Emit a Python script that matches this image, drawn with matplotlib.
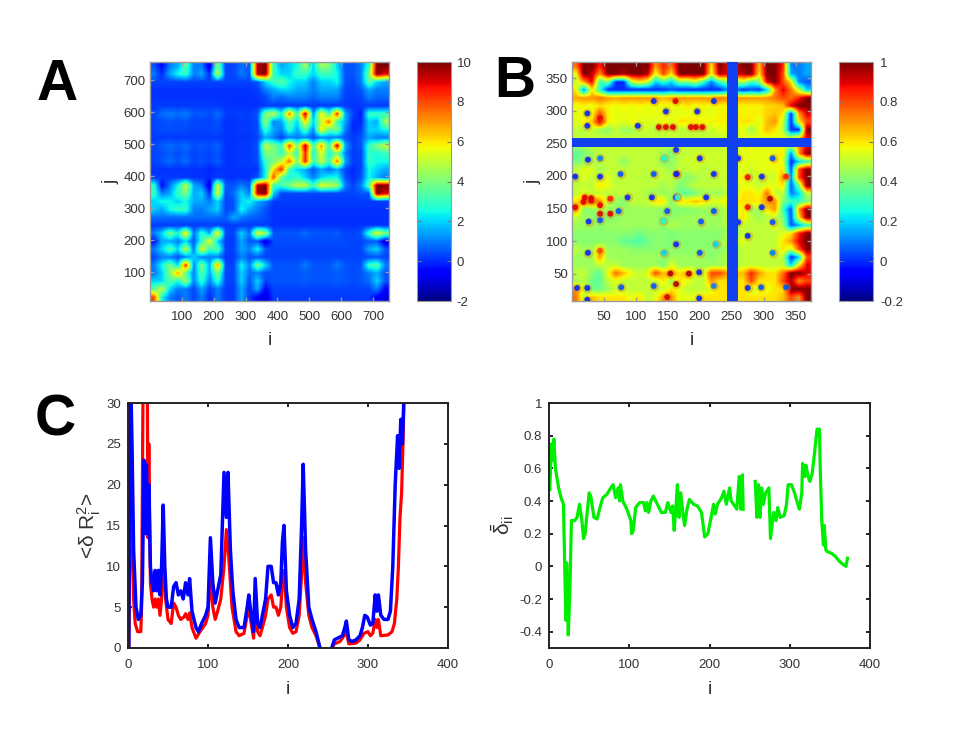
import numpy as np
import matplotlib
matplotlib.use("Agg")
import matplotlib.pyplot as plt
from matplotlib.colors import Normalize

plt.rcParams['font.family'] = ['Liberation Sans', 'DejaVu Sans']
plt.rcParams['mathtext.fontset'] = 'custom'
plt.rcParams['mathtext.rm'] = 'Liberation Sans'
plt.rcParams['mathtext.it'] = 'Liberation Sans'

# Panel A: coarse readout, rows from top (j high) to bottom (j low)
A_rows = [
 [.5,-.5,1,1.5,3.5,1,1,-1,4,.3,.3,.8,.5,9.5,10,3,1.5,2,2.5,4.5,2,4.5,4,2,.5,.5,1,3,10,10],
 [1,0,1.5,2.5,3,1,1.5,0,5,.3,.3,1,.5,9.5,10,3,2,2,3,3,2,3,3,2.5,.5,.5,1,4,10,9],
 [.3,.3,.3,.3,.3,.3,.3,.3,.3,.3,.3,.3,.3,.5,2,3,3.5,2.5,2,2,1,2,2,2.5,.5,.3,1,3.5,2,1.5],
 [.1,.1,.1,.1,.1,.1,.1,.1,.1,.1,.1,.1,.1,.2,1,1.5,2,2,1.5,1.5,1,1.5,1.5,1.5,.3,.3,.5,1.5,1,1],
 [.1,.1,.1,.1,.1,.1,.1,.1,.1,.1,.1,.1,.1,.1,.3,1,.7,1,1,1,.7,1,1,1,.3,.2,.3,1,.7,.7],
 [.2,.2,.2,.2,.2,.2,.2,.2,.2,.1,.1,.1,.1,.1,.2,.2,.2,.2,.2,.2,.2,.2,.2,.2,.2,.1,.2,.2,.2,.2],
 [.3,.8,1,.8,1,.5,.6,.4,.8,.2,.2,.3,.2,.5,4,5,2.5,7.5,3,9.5,1,6,3,8.5,1.5,.3,-.2,3,3,3],
 [.3,.4,.5,.4,.5,.3,.3,.3,.5,.1,.1,.2,.2,.4,4.5,1,1.5,3.5,2,6,2,5,7.5,3,1.5,0,0,2,1.5,4.5],
 [.3,.4,.4,.4,.4,.3,.3,.3,.4,.1,.1,.2,.2,.4,3,1.5,1,3,1.5,3.5,1,6,3.5,4,1,0,.2,2,2,2.5],
 [.2,.2,.2,.2,.2,.2,.2,.2,.2,.1,.1,.1,.1,.3,1.5,1,.3,1,1,1,.5,1,1,1,.5,.2,.5,1.5,1,1],
 [.3,.6,.8,.6,.8,.4,.6,.4,.7,.1,.1,.2,.2,.5,5,4,3,8,4,9.5,3,7,3,9.5,1.5,.2,.5,3,4,5],
 [.3,.4,.6,.4,.6,.3,.4,.3,.5,.1,.1,.2,.2,.4,4,4,3,5,3,8.5,2.5,5.5,2.5,4,1,.2,.3,3,2.5,3],
 [.3,.5,.8,.5,.8,.3,.5,.3,.6,.1,.1,.2,.2,.4,3,4,5,7.5,4,8.5,3,5,3,7.5,1.5,.2,.3,3,2.5,2.5],
 [.1,.1,.1,.1,.1,.1,.1,-.1,.1,.1,.1,.1,.1,.1,2.5,6,8.5,3,2,1.5,.5,1.5,.8,1.5,.3,0,.3,2.5,2,1.5],
 [.2,.2,.2,.2,.2,.1,.1,0,.2,.1,.1,.1,.1,.5,2.5,8,3.5,2.5,3,2,1,2,2.5,2.5,.5,0,.5,2.5,1.5,1],
 [3,-.5,1,2.5,5,1.5,1,-1,5.5,.5,.5,1,.5,9.5,10,3,3,4,5,5,3,5.5,5,4.5,1,.3,1,3.5,10,10],
 [3,1,1.5,3,4,1.5,2,0,5.5,.3,.8,2,1,9.5,10,2,.3,.3,.3,.3,.3,.3,.3,.3,.3,.3,.5,.5,10,9],
 [2,2.5,2.5,2,2.5,1.5,1.5,1,2,.3,.5,2,2.5,1.5,1,.2,.2,.2,.2,.2,.2,.2,.2,.2,.2,.2,.2,.2,.2,.2],
 [2,1.5,2.5,3,3,1,1,1.5,2,.3,.5,2.5,1.5,1,.5,.1,.1,.1,.1,.1,.1,.1,.1,.1,.1,.1,.1,.1,.1,.1],
 [.8,.8,.8,.8,.8,.8,.8,.8,.8,.6,1.5,1,.7,.6,.4,.1,.1,.1,.1,.1,.1,.1,.1,.1,.1,.1,.1,.1,.1,.1],
 [.2,.2,.2,.2,.2,.2,.2,.2,.2,.2,.2,.2,.2,.2,.2,.1,.1,.1,.1,.1,.1,.1,.1,.1,.1,.1,.1,.1,.1,.1],
 [1,2,4,2.5,6,.8,3,1.5,6,.3,.3,2,.8,5.5,4.5,.5,.5,.5,.5,.8,.5,.5,.5,.6,.3,.3,.5,3,5.5,4],
 [-.3,1.5,1.5,1,2,.5,3,5.5,2,.2,.2,1.5,.5,.5,-1,.4,.4,.4,.4,.4,.4,.4,.4,.4,.4,.3,.3,.5,.5,-1],
 [1,2,3.5,2,5,.8,5.5,3,3.5,.2,.3,1.5,1,2.5,.5,.3,.3,.3,.3,.3,.3,.3,.3,.3,.3,.3,.3,1.5,2,.5],
 [.3,1,1,.5,1,2,1,1,1,.1,.2,1,.5,.5,.3,.3,.3,.3,.3,.3,.3,.3,.3,.3,.3,.3,.3,.4,.5,.3],
 [1,2.5,4,2,8.5,1,4,1.5,7,.3,.3,2.5,1,4,2,.5,.5,.5,.5,1,.5,.5,.5,1,.5,.4,.5,3,3.5,1],
 [.8,2,4,7,3.5,1,3.5,1.5,4,.3,.3,2,.8,1,.5,.5,.5,.5,.5,.6,.5,.5,.5,.6,.5,.4,.5,1,1.5,.5],
 [2,2,3.5,2.5,4.5,1,3,1,3,.3,.3,2,.5,2,.3,.5,.5,.5,.5,.6,.5,.5,.5,.6,.5,.4,.5,.8,2,.5],
 [3.5,5,2,1,1,.3,1.5,.3,1,.2,.2,1.5,.3,1.5,-.5,.3,.3,.3,.3,.3,.3,.3,.3,.3,.3,.3,.3,.3,1,-.5],
 [8,2.5,1,.5,1,.3,1,0,1,.2,.2,1.5,.2,-.5,-1,.2,.2,.2,.2,.2,.2,.2,.2,.2,.2,.2,.2,.2,-.5,-1],
]

# Panel B: smooth background readout, rows from top to bottom (blue cross is drawn on top)
B_rows = [
 [.75,1,1,.85,1,1,1,1,1,1,.7,.85,.75,1,1,1,1,.6,1,.9,.9,1,1,.65,1,1,.85,.1,.1,.15],
 [.55,1,.95,.7,1,1,.95,1,1,.95,.55,.8,.6,1,1,1,1,.55,.95,.9,.9,.95,1,.6,1,1,.8,.15,.1,.15],
 [.5,.7,.9,.3,.4,0,0,.5,.6,.5,.2,.3,.2,.4,.4,.5,.3,.1,.3,.4,.4,.5,.3,.4,.9,1,.8,.6,.1,.05],
 [.6,.1,.6,.3,0,0,0,0,0,0,0,0,.05,0,0,0,0,0,0,.1,.1,0,.05,0,.2,.7,.9,.75,.5,.2],
 [.68,.7,.7,.75,.7,.68,.7,.7,.7,.7,.7,.65,.7,.7,.7,.7,.7,.7,.75,.72,.7,.7,.7,.7,.7,.75,.8,.75,.85,1],
 [.56,.58,.56,.6,.58,.56,.58,.56,.58,.56,.56,.56,.56,.56,.6,.56,.58,.56,.58,.58,.58,.58,.58,.58,.62,.62,.65,.9,1,1],
 [.56,.56,.56,.8,.58,.56,.56,.56,.56,.56,.56,.54,.55,.55,.55,.55,.55,.55,.58,.58,.58,.58,.58,.58,.62,.65,.6,0,.7,.9],
 [.54,.58,.62,.95,.58,.56,.54,.58,.54,.54,.54,.58,.54,.6,.6,.6,.58,.58,.58,.58,.58,.6,.6,.54,.65,.7,.5,0,.6,.8],
 [.5,.48,.52,.45,.42,.5,.45,.45,.5,.52,.48,.5,.52,.5,.5,.5,.5,.52,.55,.55,.55,.56,.45,.56,.65,.6,.5,0,0,1],
 [.5,.5,.5,.5,.5,.5,.5,.5,.5,.5,.5,.5,.5,.5,.5,.5,.5,.5,.5,.52,.52,.55,.55,.55,.55,.55,.55,.5,.6,.9],
 [.45,.45,.5,.5,.5,.5,.5,.5,.5,.5,.5,.5,.5,.5,.5,.5,.5,.5,.5,.52,.52,.55,.55,.55,.55,.55,.55,.5,.7,.9],
 [.35,.4,.45,.5,.5,.5,.5,.5,.5,.5,.5,.45,.4,.5,.5,.52,.52,.52,.52,.52,.52,.55,.55,.55,.55,.55,.6,.1,.7,1],
 [.4,.42,.45,.5,.5,.5,.42,.5,.5,.5,.5,.4,.42,.5,.52,.52,.52,.52,.52,.52,.52,.55,.55,.55,.55,.6,.55,0,.2,.3],
 [.5,.55,.55,.45,.5,.5,.5,.5,.5,.5,.5,.5,.45,.5,.5,.52,.48,.5,.52,.52,.52,.55,.52,.55,.55,.55,.6,.05,.8,1],
 [.45,.55,.5,.5,.55,.48,.5,.5,.5,.48,.5,.5,.5,.45,.42,.45,.5,.48,.5,.52,.52,.6,.5,.5,.52,.52,.7,.1,.8,1],
 [.5,.5,.5,.6,.55,.5,.5,.5,.5,.5,.5,.45,.5,.4,.45,.5,.5,.5,.5,.52,.52,.55,.55,.5,.55,.55,.6,.05,.4,1],
 [.5,.55,.5,.5,.5,.5,.5,.5,.5,.45,.45,.45,.45,.38,.35,.4,.45,.45,.45,.5,.5,.6,.6,.55,.75,.5,.5,.1,.2,.5],
 [.6,.72,.78,.72,.5,.45,.4,.5,.5,.5,.6,.6,.4,.6,.6,.65,.6,.55,.55,.6,.6,.6,.6,.6,.7,.7,.4,.3,.3,.4],
 [.72,.42,.42,.5,.45,.42,.45,.45,.45,.45,.45,.42,.42,.4,.42,.42,.45,.42,.45,.5,.5,.6,.45,.45,.6,.7,.3,.05,.7,1],
 [.5,.45,.42,.38,.42,.42,.45,.45,.45,.45,.45,.42,.42,.45,.45,.45,.45,.45,.45,.5,.5,.6,.5,.45,.5,.5,.4,.05,.6,1],
 [.45,.45,.45,.42,.45,.45,.45,.45,.45,.45,.45,.42,.48,.45,.45,.45,.45,.45,.45,.48,.48,.5,.5,.5,.5,.55,.45,.05,.15,.3],
 [.42,.42,.42,.42,.42,.42,.42,.42,.38,.42,.42,.42,.4,.42,.42,.42,.42,.42,.42,.46,.46,.5,.5,.5,.5,.5,.55,.6,.85,1],
 [.42,.42,.42,.42,.42,.42,.36,.36,.33,.38,.42,.42,.4,.42,.42,.42,.42,.42,.42,.5,.5,.55,.5,.5,.5,.5,.6,.7,.9,1],
 [.5,.45,.45,.6,.45,.45,.45,.42,.42,.42,.42,.42,.42,.42,.42,.42,.42,.42,.42,.46,.46,.5,.5,.5,.5,.5,.6,.5,.8,1],
 [.45,.45,.45,.7,.45,.45,.45,.45,.45,.45,.45,.42,.45,.45,.45,.45,.45,.42,.45,.48,.48,.5,.5,.5,.5,.5,.5,0,.2,.8],
 [.45,.45,.45,.5,.5,.5,.45,.45,.45,.45,.45,.4,.55,.45,.45,.45,.45,.45,.45,.48,.48,.5,.5,.5,.5,.5,.5,.2,.6,.9],
 [.5,.5,.42,.36,.55,.75,.65,.55,.5,.55,.8,.65,.7,.6,.7,.55,.5,.8,.8,.7,.65,.65,.85,.7,.6,.6,.75,1,1,.9],
 [.45,.5,.38,.36,.5,.55,.5,.5,.5,.5,.5,.6,.45,.6,.55,.5,.5,.7,.6,.6,.6,.6,.8,.6,.6,.6,.8,.95,.7,.8],
 [.7,.5,.38,.38,.45,.5,.5,.5,.5,.5,.5,.5,.6,.55,.5,.5,.5,.55,.6,.6,.6,.6,.5,.55,.55,.6,.6,1,1,1],
 [.75,.5,.65,.6,.6,.6,.6,.55,.6,.5,.55,.7,.7,.55,.55,.55,.6,.6,.6,.6,.6,.6,.6,.6,.6,.6,.65,.8,.7,1],
]
B_band_i = (243, 259)
B_band_j = (245, 259)

# Panel B: small spots and short ridges
spot_i = [24,24,44,147,196,128,162,222,103,147,194,25,44,200,144,5,44,76,128,164,222,275,297,335,
          26,44,143,202,73,149,222,5,275,297,275,25,44,144,200,225,314,163,163,163,163,314,260,260,314,
          199,183,8,24,77,128,222,275,296,335,24,199,149,163,87,125,165,210,44,60,30,18,
          136,158,154,186,204,20,30,44,60,310]
spot_j = [296,277,289,299,299,315,315,315,277,275,275,225,227,227,227,199,199,203,203,203,203,198,199,199,
          130,132,131,130,146,146,146,152,152,152,108,82,85,82,82,95,82,240,203,167,95,227,227,129,129,
          52,50,28,28,29,31,31,28,29,29,10,12,14,34,167,167,167,167,155,165,166,160,
          275,275,50,275,275,167,162,142,142,165]
spot_v = [.0,.0,.88,.0,.0,.0,.9,.0,.0,.9,.9,.0,.1,.0,.25,.0,.0,.05,.05,.9,.0,.88,.0,.85,
          .0,.05,.25,.05,.05,.05,.05,.9,.88,.0,.0,.0,.8,.2,.05,.2,.1,.0,.0,.0,.0,.05,.0,.0,.05,
          .0,.95,.0,.0,.05,.05,.1,.0,.05,.05,.0,.0,.9,.95,.0,.0,.3,.0,.9,.85,.9,.9,
          .9,.9,.95,.9,.9,.9,.9,.9,.9,.95]

nan = np.nan
blue_i = [1,3,5,7,10,13,16,18,20,22,23,25,26,28,30,32,34,36,38,40,42,44,46,48,50,54,57,60,63,66,69,72,75,77,80,85,88,92,97,100,103,106,109,112,116,120,123,125,128,131,135,139,145,149,151,154,157,159,162,165,168,172,175,179,182,185,188,191,193,195,198,202,206,210,214,217,219,222,226,230,235,240,nan,255,258,262,268,271,273,276,280,285,290,293,296,299,303,306,309,311,313,316,320,325,328,331,334,337,339,341,343,345]
blue_v = [0,35,25,12,5,3.5,4,8,23,14,22.5,14,20,10,8,7,9.5,7,9.5,6.5,10,17.5,10,6,5,5,7.5,8,6.5,7,6,8,6.5,8.5,4.5,2.5,2,3,4,5,13.5,8,5.5,7,9,21.5,16,21.5,12,7,3.5,2.5,2.5,5,6.5,4,2,8.5,3,2.5,4,6,10,10,8,8,6.5,8,13,15,7,4,2.5,3,6,15,22.5,12,5,3.5,2,0,nan,.1,1,1.2,1.5,2.5,3.3,1,.8,1,1.5,2.5,4,3.8,2.8,3,6.5,4.5,6.5,4,3.5,3.5,4.5,10,20,26,22,28,25,31]
red_i = [1,3,5,7,9,12,16,17,19,21,23,24,25,26,28,30,32,34,36,38,40,42,44,47,50,54,57,60,63,66,70,72,75,77,80,85,90,97,100,103,106,109,112,116,120,123,126,130,135,139,145,149,151,154,157,159,162,165,168,172,175,179,182,185,188,191,193,195,198,202,206,210,214,217,219,222,226,230,235,240,nan,255,258,265,270,273,276,285,290,295,300,303,306,309,311,313,316,325,330,333,336,338,340,342,344,345]
red_v = [0,20,14,6,3,2,2,5,35,35,35,35,13.5,25,8,6,5,6,5,6,4,6,12,6,3.5,3,5.5,5,4,3.5,3.8,4.2,3.5,4.3,2.5,1.2,2,3,4,9,5,3.5,4.5,6,10,14.5,11,5,2,1.5,1.8,4,5,3,1.2,5.5,2,1.5,2.5,4,6,6.5,5,5,4,5,8,9.5,5,2.5,1.8,2,4,9,13.5,8,4,2.5,1.5,0,nan,0,.5,.8,1.5,2,.5,.6,1,1.8,2,1.5,1.8,3.5,2.5,3.5,1.5,1.6,2,3,6,10,16,19,26,31]
green_i = [1,3,5,6,8,12,15,18,21,22,24,26,28,32,35,38,41,43,45,48,50,52,56,60,63,67,72,77,80,83,86,88,89,92,97,102,103,105,108,113,118,120,122,124,127,130,135,140,145,148,152,154,156,158,160,162,164,167,169,172,175,180,185,190,194,198,202,205,207,210,215,218,221,225,227,230,234,237,239,241,242,nan,257,259,261,263,265,267,270,274,276,280,283,285,288,293,296,298,302,306,310,312,315,316,319,320,323,325,328,331,334,337,338,340,342,343,345,347,352,357,362,367,370,372]
green_v = [.47,.75,.65,.78,.6,.48,.42,.38,-.33,.02,-.42,-.15,.28,.28,.3,.38,.28,.17,.2,.35,.45,.43,.3,.29,.35,.42,.44,.48,.5,.42,.48,.4,.5,.4,.35,.28,.2,.22,.36,.39,.39,.34,.39,.33,.4,.43,.38,.33,.33,.39,.33,.37,.22,.35,.5,.3,.45,.32,.25,.35,.41,.38,.37,.33,.18,.2,.3,.38,.32,.38,.42,.46,.38,.48,.4,.38,.35,.55,.35,.56,.35,nan,.52,.3,.5,.3,.48,.38,.45,.48,.17,.33,.28,.36,.3,.31,.38,.5,.5,.45,.38,.35,.45,.63,.55,.62,.55,.52,.57,.7,.84,.84,.6,.27,.13,.25,.1,.09,.08,.06,.03,.01,0,.05]

W, H = 969, 729
def axbox(x0, y0, x1, y1):
    return [x0 / W, 1 - y1 / H, (x1 - x0) / W, (y1 - y0) / H]

TXT = '#333333'
fig = plt.figure(figsize=(W / 100, H / 100), dpi=100, facecolor='white')

def style(ax, frame='#555555', lw=1.0, ticklen=3, padx=5, pady=5):
    for s in ax.spines.values():
        s.set_color(frame)
        s.set_linewidth(lw)
    ax.tick_params(direction='in', length=ticklen, width=lw, color=frame,
                   labelcolor=TXT, labelsize=9.5, top=True, right=True)
    ax.tick_params(axis='x', pad=padx)
    ax.tick_params(axis='y', pad=pady)

def heat(rows, box, cbox, extent, vmin, vmax, xt, yt, cticks, clabels, cpad):
    ax = fig.add_axes(axbox(*box))
    im = ax.imshow(np.array(rows, dtype=float), cmap='jet', vmin=vmin, vmax=vmax,
                   extent=extent, aspect='auto', interpolation='bilinear', origin='upper')
    ax.set_xticks(xt)
    ax.set_yticks(yt)
    style(ax, frame='#999999', padx=7, pady=3)
    ax.set_xlabel('i', fontsize=14, color=TXT, labelpad=7)
    ax.set_ylabel('j', fontsize=14, color=TXT, labelpad=3)
    cax = fig.add_axes(axbox(*cbox))
    cb = fig.colorbar(im, cax=cax)
    cb.set_ticks(cticks)
    cb.set_ticklabels(clabels)
    cax.tick_params(direction='in', length=3, color='#777777', labelcolor=TXT,
                    labelsize=9.5, pad=cpad, left=True, right=True)
    cb.outline.set_edgecolor('#999999')
    return ax

heat(A_rows, (150, 62, 389, 301), (417, 62, 451, 301), (0, 750, 10, 757), -2, 10,
     range(100, 800, 100), range(100, 800, 100), range(-2, 11, 2),
     ['-2', '0', '2', '4', '6', '8', '10'], 4)
axb = heat(B_rows, (572, 62, 811, 301), (839, 62, 873, 301), (0, 374, 8, 375), -0.2, 1,
     range(50, 400, 50), range(50, 400, 50), [-.2, 0, .2, .4, .6, .8, 1],
     ['-0.2', '0', '0.2', '0.4', '0.6', '0.8', '1'], 5)
axb.scatter(spot_i, spot_j, color='#e07818', s=48, linewidths=0, alpha=0.35, zorder=2)
axb.scatter(spot_i, spot_j, c=spot_v, cmap='jet', norm=Normalize(-0.2, 1), s=18,
            linewidths=0, alpha=0.9, zorder=3)
BAND = '#1040f0'
axb.axvspan(*B_band_i, color=BAND, lw=0, zorder=4)
axb.axhspan(*B_band_j, color=BAND, lw=0, zorder=4)
axb.set_xlim(0, 374)
axb.set_ylim(8, 375)

ax = fig.add_axes(axbox(128, 403, 448, 648))
ax.plot(red_i, red_v, color='#ff0000', lw=2.3, solid_joinstyle='round')
ax.plot(blue_i, blue_v, color='#0000ff', lw=2.5, solid_joinstyle='round')
ax.set_xlim(0, 400)
ax.set_ylim(0, 30)
ax.set_xticks(range(0, 500, 100))
ax.set_yticks(range(0, 35, 5))
style(ax, frame='#222222', lw=1.4, padx=8, pady=5)
ax.set_xlabel('i', fontsize=14, color=TXT, labelpad=7)
ax.set_ylabel(r'<$\delta$ R$_{\mathrm{i}}^{2}$>', fontsize=15, color=TXT, labelpad=2)

ax = fig.add_axes(axbox(549, 403, 870, 648))
ax.plot(green_i, green_v, color='#00ee00', lw=2.3, solid_joinstyle='round')
ax.set_xlim(0, 400)
ax.set_ylim(-0.5, 1)
ax.set_xticks(range(0, 500, 100))
ax.set_yticks([-.4, -.2, 0, .2, .4, .6, .8, 1])
ax.set_yticklabels(['-0.4', '-0.2', '0', '0.2', '0.4', '0.6', '0.8', '1'])
style(ax, frame='#222222', lw=1.4, padx=8, pady=5)
ax.set_xlabel('i', fontsize=14, color=TXT, labelpad=7)
ax.set_ylabel(r'$\bar{\delta}_{\mathrm{ii}}$', fontsize=15, color=TXT, labelpad=2)

for s, x, y in [('A', 37, 100), ('B', 494, 97), ('C', 35, 436)]:
    fig.text(x / W, 1 - y / H, s, fontsize=41, fontweight='bold', color='#000000',
             ha='left', va='baseline')

fig.savefig('out.png', dpi=100, facecolor='white')
